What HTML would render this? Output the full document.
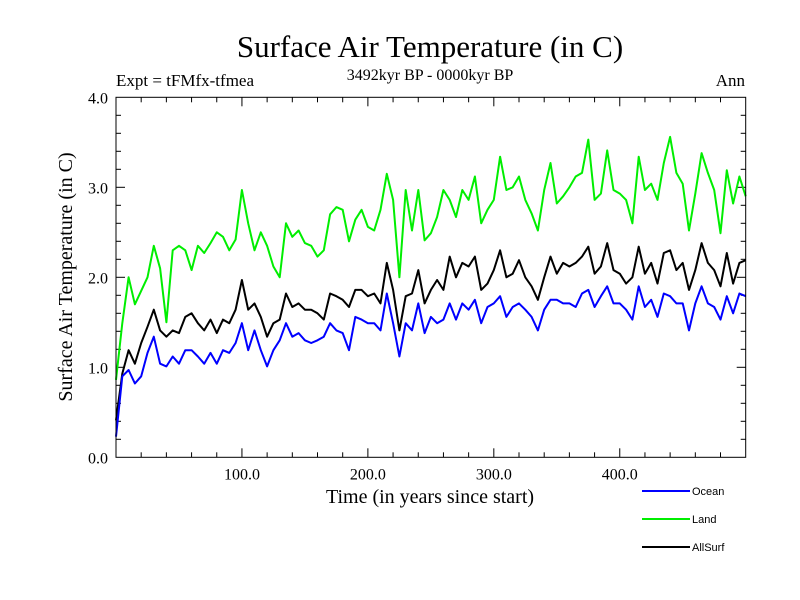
<!DOCTYPE html>
<html><head><meta charset="utf-8"><style>
body{margin:0;background:#fff}
svg{display:block}
text{font-family:"Liberation Serif",serif;fill:#000}
.leg{font-family:"Liberation Sans",sans-serif;font-size:11px}
</style></head><body>
<svg id="chart" width="800" height="600" xmlns="http://www.w3.org/2000/svg">
<text x="430" y="57" font-size="31" text-anchor="middle">Surface Air Temperature (in C)</text>
<text x="430" y="80" font-size="16" text-anchor="middle">3492kyr BP - 0000kyr BP</text>
<text x="116" y="86" font-size="17">Expt = tFMfx-tfmea</text>
<text x="745" y="86" font-size="17" text-anchor="end">Ann</text>
<text transform="translate(72,277) rotate(-90)" font-size="20" text-anchor="middle">Surface Air Temperature (in C)</text>
<text x="430" y="503" font-size="20" text-anchor="middle">Time (in years since start)</text>
<g id="ticks"></g>
<g id="series"></g>
<rect x="116" y="97.3" width="629.7" height="360" fill="none" stroke="#000" stroke-width="1"/>
<g>
<line x1="642" y1="491" x2="690" y2="491" stroke="#0000ff" stroke-width="2"/>
<text class="leg" x="692" y="495">Ocean</text>
<line x1="642" y1="519" x2="690" y2="519" stroke="#00ee00" stroke-width="2"/>
<text class="leg" x="692" y="523">Land</text>
<line x1="642" y1="547" x2="690" y2="547" stroke="#000" stroke-width="2"/>
<text class="leg" x="692" y="551">AllSurf</text>
</g>
</svg>
<script>
const years = [];
for (let i = 0; i <= 100; i++) years.push(i * 5);
const land = [0.86,1.49,2.0,1.7,1.85,2.0,2.35,2.1,1.5,2.3,2.35,2.3,2.08,2.35,2.27,2.38,2.5,2.45,2.3,2.42,2.97,2.6,2.3,2.5,2.35,2.12,2.0,2.6,2.45,2.52,2.38,2.35,2.23,2.3,2.7,2.78,2.75,2.4,2.64,2.75,2.56,2.52,2.75,3.15,2.86,2.0,2.97,2.52,2.97,2.41,2.49,2.67,2.97,2.86,2.67,2.97,2.86,3.12,2.6,2.75,2.86,3.34,2.97,3.0,3.12,2.86,2.71,2.52,2.97,3.27,2.82,2.9,3.0,3.12,3.16,3.53,2.86,2.93,3.41,2.97,2.93,2.86,2.6,3.34,2.97,3.04,2.86,3.27,3.56,3.16,3.04,2.52,2.93,3.38,3.16,2.97,2.49,3.19,2.82,3.12,2.9];
const allSurf = [0.41,0.93,1.19,1.04,1.27,1.45,1.64,1.41,1.34,1.41,1.38,1.56,1.6,1.49,1.41,1.53,1.38,1.53,1.49,1.64,1.97,1.64,1.71,1.56,1.34,1.49,1.53,1.82,1.67,1.71,1.64,1.64,1.6,1.53,1.82,1.79,1.75,1.67,1.86,1.86,1.79,1.82,1.71,2.16,1.86,1.41,1.79,1.82,2.08,1.71,1.86,1.97,1.86,2.23,2.0,2.16,2.12,2.23,1.86,1.93,2.08,2.3,2.0,2.04,2.19,2.0,1.9,1.75,2.0,2.23,2.04,2.16,2.12,2.16,2.23,2.34,2.04,2.12,2.38,2.08,2.04,1.93,2.0,2.34,2.04,2.16,1.93,2.27,2.3,2.08,2.16,1.86,2.08,2.38,2.16,2.08,1.9,2.27,1.93,2.16,2.19];
const ocean = [0.23,0.9,0.97,0.82,0.9,1.16,1.34,1.04,1.01,1.12,1.04,1.19,1.19,1.12,1.04,1.16,1.04,1.19,1.16,1.27,1.49,1.19,1.41,1.19,1.01,1.19,1.3,1.49,1.34,1.38,1.3,1.27,1.3,1.34,1.49,1.41,1.38,1.19,1.56,1.53,1.49,1.49,1.41,1.82,1.49,1.12,1.49,1.41,1.71,1.38,1.56,1.49,1.53,1.71,1.53,1.71,1.64,1.75,1.49,1.67,1.71,1.79,1.56,1.67,1.71,1.64,1.56,1.41,1.64,1.75,1.75,1.71,1.71,1.67,1.82,1.86,1.67,1.79,1.9,1.71,1.71,1.64,1.53,1.9,1.67,1.75,1.56,1.82,1.79,1.71,1.71,1.41,1.71,1.9,1.71,1.67,1.53,1.79,1.6,1.82,1.79];
const xTicks = [100, 200, 300, 400];
const xTickLabels = ["100.0", "200.0", "300.0", "400.0"];
const yTicks = [0, 1, 2, 3, 4];
const yTickLabels = ["0.0", "1.0", "2.0", "3.0", "4.0"];

const X0 = 116, X1 = 745.7, Y0 = 457.3, Y1 = 97.3;
function xs(v) { return X0 + (v - 0) / 500 * (X1 - X0); }
function ys(v) { return Y0 - v / 4 * (Y0 - Y1); }
const NS = "http://www.w3.org/2000/svg";
const tg = document.getElementById('ticks');
function line(x1, y1, x2, y2, name) {
  const l = document.createElementNS(NS, 'line');
  l.setAttribute('x1', x1); l.setAttribute('y1', y1); l.setAttribute('x2', x2); l.setAttribute('y2', y2);
  l.setAttribute('stroke', '#000'); l.setAttribute('stroke-width', '1');
  
  
  tg.appendChild(l);
}
for (let v = 20; v < 500; v += 20) {
  const major = v % 100 === 0, len = major ? 9 : 5, x = xs(v);
  line(x, Y0, x, Y0 - len, 'x-tick');
  line(x, Y1, x, Y1 + len, 'x-tick-top');
}
for (let k = 1; k < 20; k++) {
  const v = k * 0.2, major = k % 5 === 0, len = major ? 9 : 5, y = ys(v);
  line(X0, y, X0 + len, y, 'y-tick');
  line(X1, y, X1 - len, y, 'y-tick-right');
}
xTicks.forEach((v, i) => {
  const t = document.createElementNS(NS, 'text');
  t.setAttribute('x', xs(v)); t.setAttribute('y', Y0 + 22);
  t.setAttribute('font-size', '16'); t.setAttribute('text-anchor', 'middle');
  t.textContent = xTickLabels[i];
  
  
  tg.appendChild(t);
});
yTicks.forEach((v, i) => {
  const t = document.createElementNS(NS, 'text');
  t.setAttribute('x', X0 - 8); t.setAttribute('y', ys(v) + 6);
  t.setAttribute('font-size', '16'); t.setAttribute('text-anchor', 'end');
  t.textContent = yTickLabels[i];
  
  
  tg.appendChild(t);
});
const sg = document.getElementById('series');
[[land, '#00ee00', 'land-line'], [allSurf, '#000000', 'allsurf-line'], [ocean, '#0000ff', 'ocean-line']].forEach(s => {
  const p = document.createElementNS(NS, 'polyline');
  p.setAttribute('points', s[0].map((v, i) => xs(years[i]).toFixed(1) + ',' + ys(v).toFixed(1)).join(' '));
  p.setAttribute('fill', 'none'); p.setAttribute('stroke', s[1]); p.setAttribute('stroke-width', '2');
  p.setAttribute('stroke-linejoin', 'round');
  
  
  sg.appendChild(p);
});
</script>
</body></html>
